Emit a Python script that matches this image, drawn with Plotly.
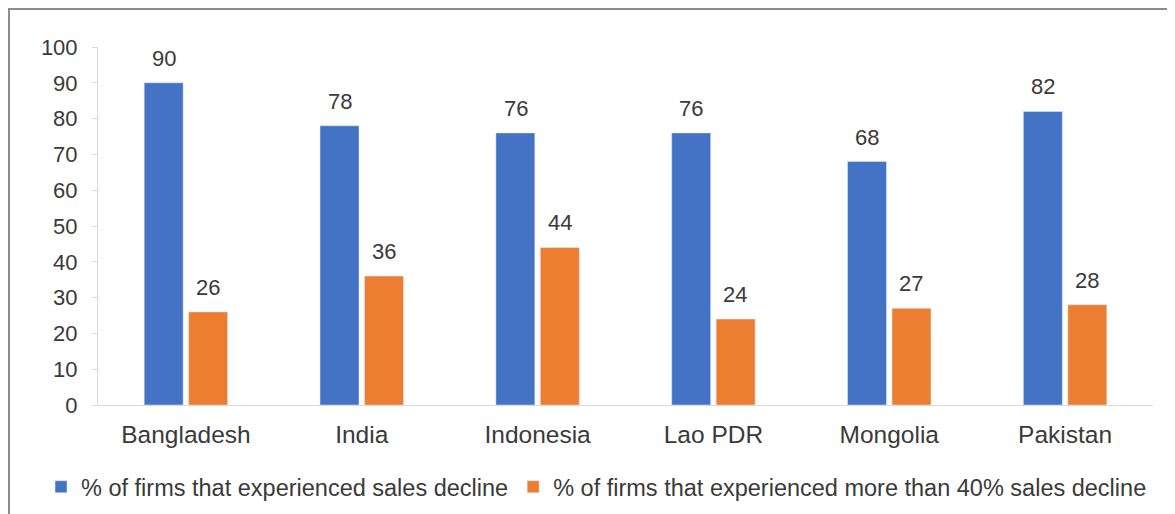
import plotly.graph_objects as go

categories = ["Bangladesh", "India", "Indonesia", "Lao PDR", "Mongolia", "Pakistan"]
sales_decline = [90, 78, 76, 76, 68, 82]
sales_decline_40 = [26, 36, 44, 24, 27, 28]
series_names = ["% of firms that experienced sales decline",
                "% of firms that experienced more than 40% sales decline"]
y_ticks = [0, 10, 20, 30, 40, 50, 60, 70, 80, 90, 100]

BLUE = "#4472C4"
ORANGE = "#ED7D31"
TXT = "#3A3A3A"
FONT = "Liberation Sans, Arial, sans-serif"

fig = go.Figure()
fig.add_trace(go.Bar(x=categories, y=sales_decline, name=series_names[0], marker_color=BLUE))
fig.add_trace(go.Bar(x=categories, y=sales_decline_40, name=series_names[1], marker_color=ORANGE))

annotations = []
for vals, shift in ((sales_decline, -22), (sales_decline_40, 22)):
    for c, v in zip(categories, vals):
        annotations.append(dict(x=c, y=v, text=str(v), showarrow=False, xref="x", yref="y",
                                xshift=shift, yanchor="bottom", yshift=10,
                                font=dict(size=22, color=TXT, family=FONT)))

fig.update_layout(
    width=1167, height=506,
    margin=dict(l=90, r=22, t=39, b=109, autoexpand=False),
    paper_bgcolor="white", plot_bgcolor="white",
    barmode="group", bargap=0.494, bargroupgap=0.124,
    font=dict(family=FONT, size=22, color=TXT),
    showlegend=True,
    legend=dict(orientation="h", x=-0.054, xanchor="left",
                y=-0.229, yanchor="middle",
                font=dict(size=23.5, color=TXT), itemwidth=30, tracegroupgap=0),
    annotations=annotations,
    shapes=[dict(type="path", xref="paper", yref="paper",
                 path="M -0.08436,-0.35 L -0.08436,1.1061 L 1.03,1.1061",
                 line=dict(color="#8C8C8C", width=2))],
)
fig.update_xaxes(showline=True, linecolor="#D9D9D9", linewidth=1, ticks="",
                 tickfont=dict(size=24.5, color=TXT), ticklabelstandoff=8)
fig.update_yaxes(range=[0, 100], tickvals=y_ticks, showgrid=False, zeroline=False,
                 showline=True, linecolor="#D9D9D9", linewidth=1, ticks="outside",
                 ticklen=5, tickcolor="#D9D9D9", tickfont=dict(size=22, color=TXT),
                 ticklabelstandoff=10)

fig.write_html("out.html")
